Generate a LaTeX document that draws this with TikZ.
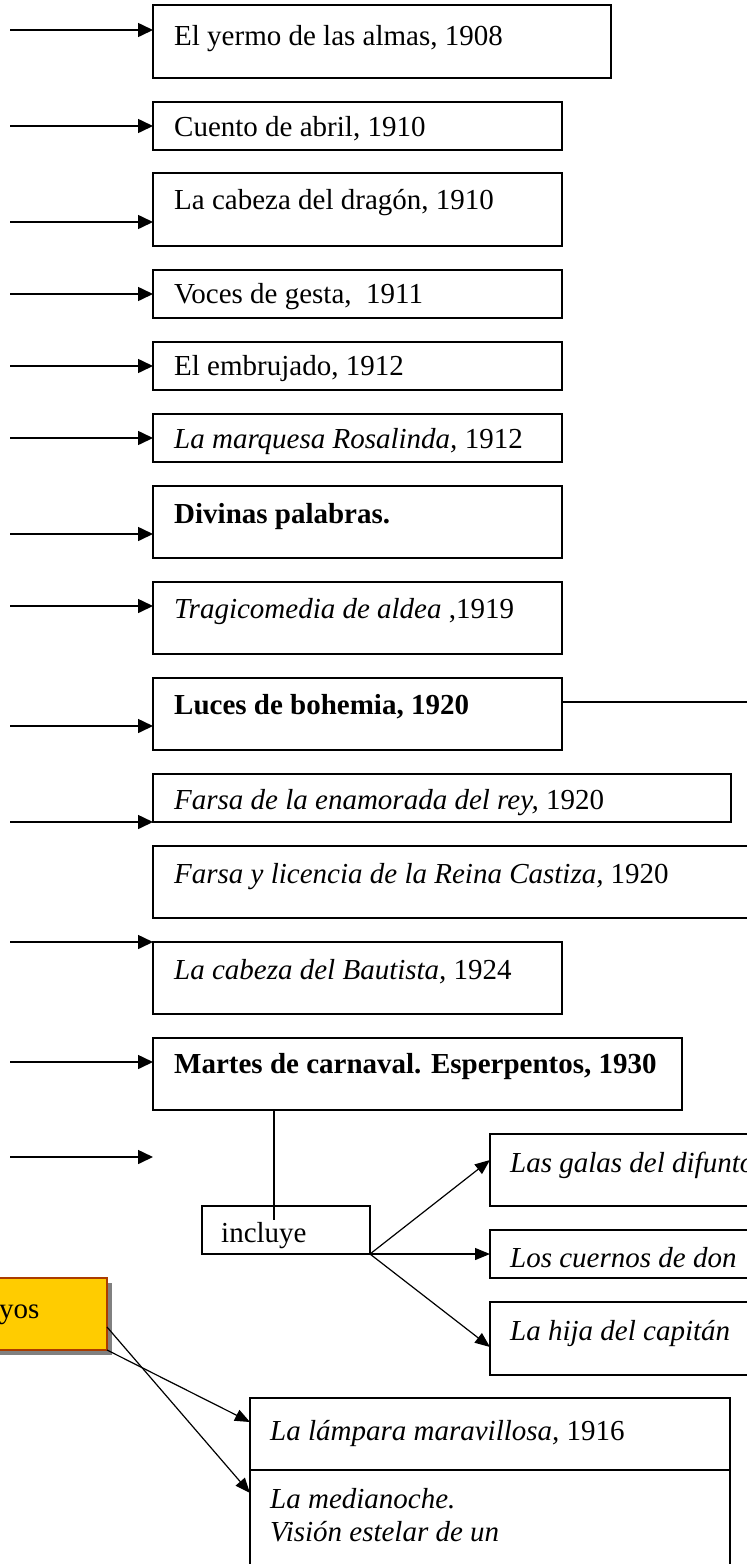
\documentclass[tikz,border=0pt]{standalone}
\usepackage{fontspec}
\setmainfont{Liberation Serif}
\usetikzlibrary{arrows.meta,calc}
\definecolor{yel}{RGB}{255,204,0}
\definecolor{yelborder}{RGB}{170,60,0}
\definecolor{shadowgray}{RGB}{128,128,128}
\begin{document}
\begin{tikzpicture}[x=1pt,y=-1pt,
  box/.style={draw, line width=1.6pt, rectangle, anchor=north west, inner sep=0pt, outer sep=0pt},
  lbl/.style={anchor=base west, inner sep=0pt, font=\fontsize{29}{33}\selectfont},
  arr/.style={line width=1.6pt, -{Triangle[length=15pt,width=14pt]}},
  thinline/.style={line width=1.2pt},
  tarr/.style={line width=1.2pt, -{Triangle[length=15pt,width=12pt]}}]
\useasboundingbox (0,0) rectangle (747,1564);
\clip (0,0) rectangle (747,1564);

% main column of boxes
\node[box, minimum width=458pt, minimum height=73pt] (b1) at (153,5) {};
\node[box, minimum width=409pt, minimum height=48pt] (b2) at (153,102) {};
\node[box, minimum width=409pt, minimum height=73pt] (b3) at (153,173) {};
\node[box, minimum width=409pt, minimum height=48pt] (b4) at (153,270) {};
\node[box, minimum width=409pt, minimum height=48pt] (b5) at (153,342) {};
\node[box, minimum width=409pt, minimum height=48pt] (b6) at (153,414) {};
\node[box, minimum width=409pt, minimum height=72pt] (b7) at (153,486) {};
\node[box, minimum width=409pt, minimum height=72pt] (b8) at (153,582) {};
\node[box, minimum width=409pt, minimum height=72pt] (b9) at (153,678) {};
\node[box, minimum width=578pt, minimum height=48pt] (b10) at (153,774) {};
\node[box, minimum width=620pt, minimum height=72pt] (b11) at (153,846) {};
\node[box, minimum width=409pt, minimum height=72pt] (b12) at (153,942) {};
\node[box, minimum width=529pt, minimum height=72pt] (b13) at (153,1038) {};

\node[lbl] (t1) at (174,45) {El yermo de las almas, 1908};
\node[lbl] (t2) at (174,136) {Cuento de abril, 1910};
\node[lbl] (t3) at (174,209) {La cabeza del dragón, 1910};
\node[lbl] (t4) at (174,303) {Voces de gesta,\ \ 1911};
\node[lbl] (t5) at (174,375) {El embrujado, 1912};
\node[lbl] (t6) at (174,448) {\textit{La marquesa Rosalinda,} 1912};
\node[lbl] (t7) at (174,523) {\textbf{Divinas palabras.}};
\node[lbl] (t8) at (174,618) {\textit{Tragicomedia de aldea} ,1919};
\node[lbl] (t9) at (174,714) {\textbf{Luces de bohemia, 1920}};
\node[lbl] (t10) at (174,809) {\textit{Farsa de la enamorada del rey,} 1920};
\node[lbl] (t11) at (174,883) {\textit{Farsa y licencia de la Reina Castiza,} 1920};
\node[lbl] (t12) at (174,979) {\textit{La cabeza del Bautista,} 1924};
\node[lbl] (t13) at (174,1073) {\textbf{Martes de carnaval. Esperpentos, 1930}};

% incluye and its three works
\node[box, minimum width=168pt, minimum height=48pt] (inc) at (202,1206) {};
\node[lbl] (tinc) at (221,1242) {incluye};
\node[box, minimum width=280pt, minimum height=72pt] (gal) at (490,1134) {};
\node[box, minimum width=280pt, minimum height=48pt] (cue) at (490,1230) {};
\node[box, minimum width=280pt, minimum height=73pt] (hij) at (490,1302) {};
\node[lbl] (tgal) at (510,1172) {\textit{Las galas del difunto}};
\node[lbl] (tcue) at (510,1267) {\textit{Los cuernos de don}};
\node[lbl] (thij) at (510,1340) {\textit{La hija del capitán}};

% ensayos box
\fill[shadowgray] (-15,1283) rectangle (112,1355);
\node[box, fill=yel, draw=yelborder, line width=1.2pt, minimum width=127pt, minimum height=72pt] (yb) at (-20,1278) {};
\node[lbl] (tyb) at (-1,1318) {yos};

\node[box, line width=1.4pt, minimum width=480pt, minimum height=72pt] (lamp) at (250,1398) {};
\node[box, line width=1.4pt, minimum width=480pt, minimum height=130pt] (med) at (250,1470) {};
\node[lbl] (tlamp) at (270,1440) {\textit{La lámpara maravillosa,} 1916};
\node[lbl] (tmed1) at (270,1508) {\textit{La medianoche.}};
\node[lbl] (tmed2) at (270,1541) {\textit{Visión estelar de un}};

% left arrows
\coordinate (s1) at (10,30);
\coordinate (s2) at (10,126);
\coordinate (s3) at (10,222);
\coordinate (s4) at (10,294);
\coordinate (s5) at (10,366);
\coordinate (s6) at (10,438);
\coordinate (s7) at (10,534);
\coordinate (s8) at (10,606);
\coordinate (s9) at (10,726);
\coordinate (s10) at (10,822);
\coordinate (s11) at (10,942);
\coordinate (s12) at (10,1062);
\coordinate (s13) at (10,1157);
\coordinate (e13) at (153,1157);
\draw[arr] (s1) -- (s1 -| b1.west);
\draw[arr] (s2) -- (s2 -| b2.west);
\draw[arr] (s3) -- (s3 -| b3.west);
\draw[arr] (s4) -- (s4 -| b4.west);
\draw[arr] (s5) -- (s5 -| b5.west);
\draw[arr] (s6) -- (s6 -| b6.west);
\draw[arr] (s7) -- (s7 -| b7.west);
\draw[arr] (s8) -- (s8 -| b8.west);
\draw[arr] (s9) -- (s9 -| b9.west);
\draw[arr] (s10) -- (s10 -| b10.west);
\draw[arr] (s11) -- (s11 -| b12.west);
\draw[arr] (s12) -- (s12 -| b13.west);
\draw[arr] (s13) -- (e13);

% Luces line to the right
\coordinate (l9) at (760,702);
\draw[thinline] (l9 -| b9.east) -- (l9);

% Martes -> incluye
\coordinate (v13) at (274,1220);
\draw[thinline] (v13 |- b13.south) -- (v13);

% incluye -> works
\draw[tarr] (inc.south east) -- ($(gal.north west)+(0,26)$);
\draw[tarr] (inc.south east) -- (inc.south east -| cue.west);
\draw[tarr] (inc.south east) -- ($(hij.north west)+(0,45)$);

% ensayos -> works
\draw[tarr] ($(yb.north east)+(0,49)$) -- ($(med.north west)+(0,23)$);
\draw[tarr] (yb.south east) -- ($(lamp.north west)+(0,24)$);
\end{tikzpicture}
\end{document}
